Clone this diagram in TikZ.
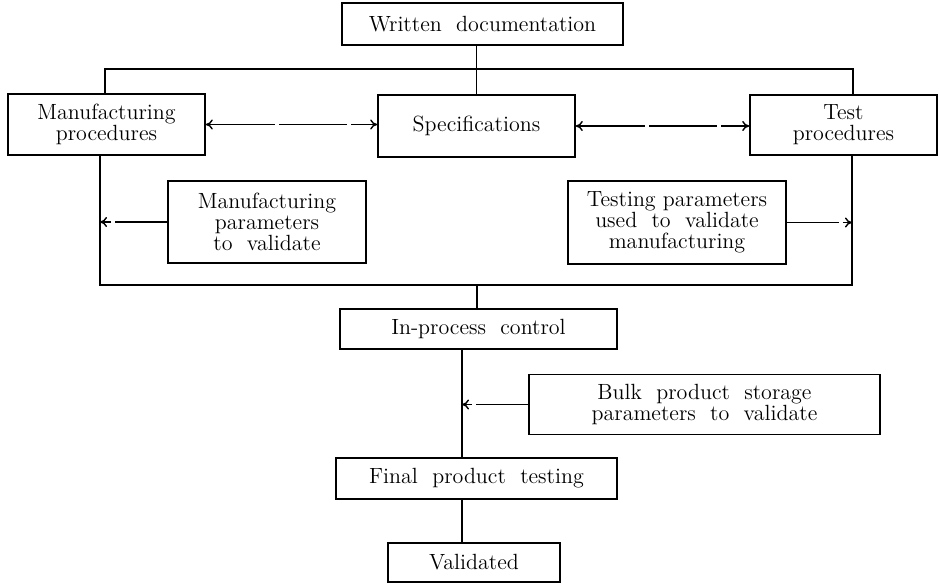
\documentclass[tikz,border=0pt]{standalone}
\usetikzlibrary{arrows.meta,positioning}

\begin{document}
\begin{tikzpicture}[
  x=0.5pt, y=-0.5pt,
  box/.style={rectangle, draw, align=center, inner sep=0pt, line width=0.8pt, font=\fontsize{11}{10.5}\selectfont},
  link/.style={line width=0.7pt},
  arrow/.style={-{To[length=3.5pt,width=5pt]}, line width=0.7pt, dash pattern=on 26pt off 2pt},
  twoway/.style={{To[length=3.5pt,width=5pt]}-{To[length=3.5pt,width=5pt]}, line width=0.7pt, dash pattern=on 34pt off 2pt}
]
\useasboundingbox (0,0) rectangle (939,584);
\node[box, minimum width=140.5pt, minimum height=21pt] (doc) at (482.5,24) {Written\ \ documentation};
\node[box, minimum width=98.5pt, minimum height=30.5pt] (mfg) at (106.5,124.5) {Manufacturing\\procedures};
\node[box, minimum width=98.5pt, minimum height=31pt] (spec) at (476.5,126) {Specifications};
\node[box, minimum width=93.5pt, minimum height=30pt] (test) at (843.5,125) {Test\\procedures};
\node[box, minimum width=99pt, minimum height=41pt] (mpar) at (267,222) {Manufacturing\\parameters\\to\ \ validate};
\node[box, minimum width=109pt, minimum height=41.5pt] (tpar) at (677,222.5) {Testing\ parameters\\used\ \ to\ \ validate\\manufacturing};
\node[box, minimum width=138.5pt, minimum height=20pt] (ipc) at (478.5,329) {In-process\ \ control};
\node[box, minimum width=175.5pt, minimum height=30pt] (bulk) at (704.5,404.5) {Bulk\ \ product\ \ storage\\parameters\ \ to\ \ validate};
\node[box, minimum width=140.5pt, minimum height=20.5pt] (fpt) at (476.5,478.5) {Final\ \ product\ \ testing};
\node[box, minimum width=86pt, minimum height=19.5pt] (val) at (474,562.5) {Validated};

% branch points
\coordinate (ltop) at (105,69);
\coordinate (rtop) at (853,69);
\coordinate (lbase) at (100,285);
\coordinate (rbase) at (852,285);
\coordinate (base) at (477,285);
\coordinate (spine) at (462,400);

\draw[link] (doc.south -| spec.north) -- (spec.north);
\draw[link] (mfg.north -| ltop) -- (ltop) -- (rtop) -- (test.north -| rtop);
\draw[link] (mfg.south -| lbase) -- (lbase) -- (rbase) -- (test.south -| rbase);
\draw[link] (base) -- (ipc.north -| base);
\draw[twoway] (mfg.east) -- (mfg.east -| spec.west);
\draw[twoway] (spec.east) -- (spec.east -| test.west);
\draw[arrow] (mpar.west) -- (mpar.west -| lbase);
\draw[arrow] (tpar.east) -- (tpar.east -| rbase);
\draw[link] (ipc.south -| spine) -- (fpt.north -| spine);
\draw[arrow] (bulk.west) -- (bulk.west -| spine);
\draw[link] (fpt.south -| spine) -- (val.north -| spine);
\end{tikzpicture}
\end{document}
